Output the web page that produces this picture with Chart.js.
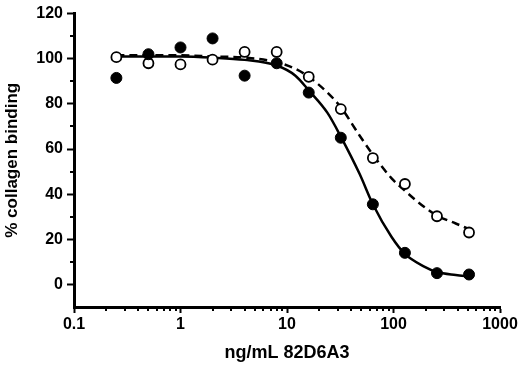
<!DOCTYPE html>
<html>
<head>
<meta charset="utf-8">
<script src="https://cdn.jsdelivr.net/npm/chart.js@4"></script>
<style>
  body { margin: 0; background: #fff; }
</style>
</head>
<body>
<canvas id="bindingChart" width="520" height="366"></canvas>
<script>
// measured points (ng/mL 82D6A3)
const doses = [0.25, 0.5, 1, 2, 4, 8, 16, 32, 64, 128, 256, 512];
const filledValues = [91.5, 102, 105, 109, 92.5, 98, 85, 65, 35.5, 14, 5, 4.4];
const openValues = [100.7, 98, 97.5, 99.6, 103, 103, 92, 77.7, 56, 44.5, 30.2, 23];

// fitted curves
const fitDoses = [0.25, 0.5, 1, 2, 4, 8, 12, 16, 24, 32, 48, 64, 96, 128, 192, 256, 384, 512];
const solidFit = [101, 101, 101, 100.5, 99.5, 97, 92.5, 86, 76, 65.5, 49, 35.5, 21, 13.5, 8, 5.5, 4.2, 3.6];
const dashedFit = [101.5, 101.5, 101.5, 101, 100.5, 98.5, 95.5, 92, 85, 78.5, 66, 57.5, 47, 41.5, 34.5, 30.5, 27, 24.5];

// axis ticks
const xDecades = [0.1, 1, 10, 100, 1000];
const yTickLabels = [0, 20, 40, 60, 80, 100, 120];

const toXY = (xs, ys) => xs.map((x, i) => ({ x: x, y: ys[i] }));
const isDecade = v => Math.abs(Math.log10(v) - Math.round(Math.log10(v))) < 1e-9;

// short ticks for the minor steps
const minorTicks = {
    id: 'minorTicks',
    afterDraw(chart) {
        const ctx = chart.ctx;
        const xs = chart.scales.x, ys = chart.scales.y;
        ctx.save();
        ctx.strokeStyle = '#000';
        ctx.lineWidth = 2;
        ctx.beginPath();
        xs.ticks.forEach(t => {
            if (isDecade(t.value)) return;
            const px = Math.round(xs.getPixelForValue(t.value));
            ctx.moveTo(px, xs.top);
            ctx.lineTo(px, xs.top + 4);
        });
        ys.ticks.forEach(t => {
            if (yTickLabels.includes(t.value) || t.value <= ys.min) return;
            const py = Math.round(ys.getPixelForValue(t.value));
            ctx.moveTo(ys.right, py);
            ctx.lineTo(ys.right - 4, py);
        });
        ctx.stroke();
        ctx.restore();
    }
};

Chart.defaults.font.family = '"Liberation Sans", Arial, sans-serif';
Chart.defaults.font.weight = 'bold';
Chart.defaults.color = '#000';

var ctx = document.getElementById('bindingChart').getContext('2d');
var bindingChart = new Chart(ctx, {
    type: 'scatter',
    data: {
        datasets: [
            {
                label: 'filled',
                data: toXY(doses, filledValues),
                pointRadius: 5.5,
                pointBackgroundColor: '#000',
                pointBorderColor: '#000',
                pointBorderWidth: 1,
                order: 0
            },
            {
                label: 'open',
                data: toXY(doses, openValues),
                pointRadius: 5,
                pointBackgroundColor: '#fff',
                pointBorderColor: '#000',
                pointBorderWidth: 1.8,
                order: 0
            },
            {
                label: 'solid fit',
                type: 'line',
                data: toXY(fitDoses, solidFit),
                borderColor: '#000',
                borderWidth: 2.5,
                pointRadius: 0,
                cubicInterpolationMode: 'monotone',
                fill: false,
                order: 1
            },
            {
                label: 'dashed fit',
                type: 'line',
                data: toXY(fitDoses, dashedFit),
                borderColor: '#000',
                borderWidth: 2.5,
                borderDash: [8, 5],
                pointRadius: 0,
                cubicInterpolationMode: 'monotone',
                fill: false,
                order: 1
            }
        ]
    },
    options: {
        responsive: false,
        animation: false,
        layout: { padding: { top: 10, right: 20, bottom: 0, left: 0 } },
        plugins: {
            legend: { display: false },
            tooltip: { enabled: false }
        },
        scales: {
            x: {
                type: 'logarithmic',
                min: 0.1,
                max: 1000,
                afterBuildTicks: scale => {
                    const ticks = [];
                    xDecades.slice(0, -1).forEach(d => {
                        for (let m = 1; m <= 9; m++) ticks.push({ value: parseFloat((m * d).toPrecision(3)) });
                    });
                    ticks.push({ value: xDecades[xDecades.length - 1] });
                    scale.ticks = ticks;
                },
                afterFit: scale => { scale.height = 59; },
                border: { display: true, color: '#000', width: 3 },
                grid: {
                    drawOnChartArea: false,
                    drawTicks: true,
                    tickLength: 6,
                    tickWidth: 2,
                    tickColor: c => isDecade(c.tick.value) ? '#000' : 'rgba(0,0,0,0)'
                },
                ticks: {
                    autoSkip: false,
                    maxRotation: 0,
                    minRotation: 0,
                    padding: 2,
                    font: { size: 16, weight: 'bold' },
                    callback: v => isDecade(v) ? String(v) : ''
                },
                title: {
                    display: true,
                    text: 'ng/mL 82D6A3',
                    font: { size: 18, weight: 'bold' },
                    padding: { top: 0, bottom: 2 }
                }
            },
            y: {
                min: -10,
                max: 120,
                afterFit: scale => { scale.width = 74; },
                border: { display: true, color: '#000', width: 3 },
                grid: {
                    drawOnChartArea: false,
                    drawTicks: true,
                    tickLength: 7,
                    tickWidth: 2,
                    tickColor: c => yTickLabels.includes(c.tick.value) ? '#000' : 'rgba(0,0,0,0)'
                },
                ticks: {
                    stepSize: 10,
                    padding: 4,
                    font: { size: 16, weight: 'bold' },
                    callback: v => yTickLabels.includes(v) ? String(v) : ''
                },
                title: {
                    display: true,
                    text: '% collagen binding',
                    font: { size: 17, weight: 'bold' },
                    padding: { top: 2, bottom: 0 }
                }
            }
        }
    },
    plugins: [minorTicks]
});
</script>
</body>
</html>
